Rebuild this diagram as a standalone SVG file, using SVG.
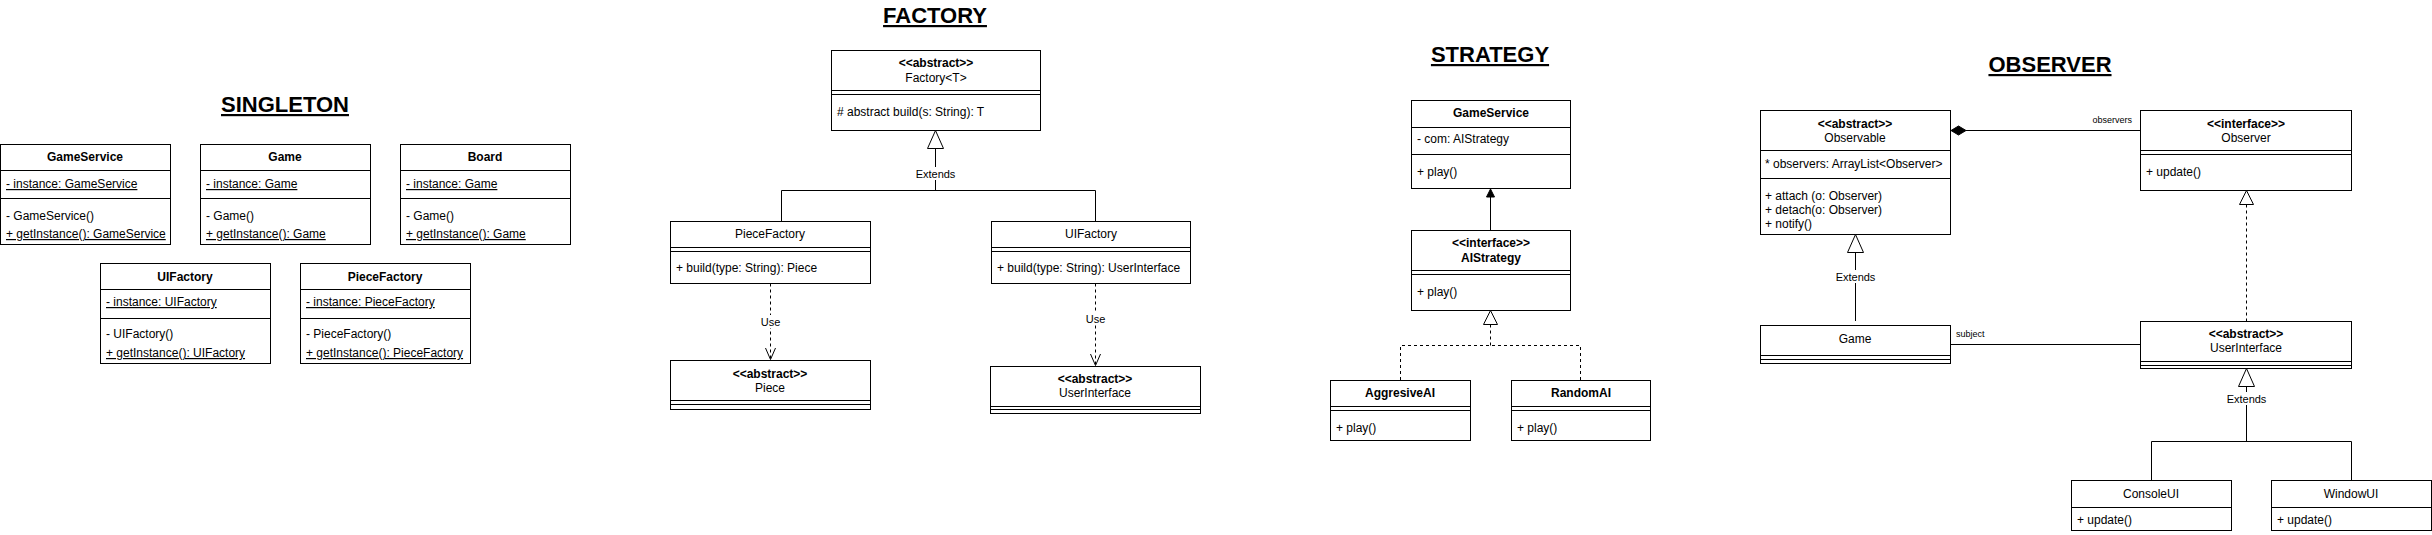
<svg xmlns="http://www.w3.org/2000/svg" width="2432" height="535" viewBox="0 0 2432 535">
<style>
text{font-family:"Liberation Sans",Arial,sans-serif;font-size:12px;fill:#000}
.b{font-weight:bold}
.c{text-anchor:middle}
.u{text-decoration:underline}
.h{font-size:22px;font-weight:bold;text-anchor:middle;text-decoration:underline}
.lbl{font-size:11px;text-anchor:middle}
.sm{font-size:9px}
rect{fill:#fff;stroke:#000;stroke-width:1}
line,path,polyline{stroke:#000;stroke-width:1;fill:none}
.d{stroke-dasharray:3 3}
.tri{fill:#fff;stroke:#000;stroke-width:1}
.fill{fill:#000;stroke:#000;stroke-width:1}
.bg{fill:#fff;stroke:none}
</style>

<!-- Titles -->
<text class="h" x="285" y="112">SINGLETON</text>
<text class="h" x="935" y="23">FACTORY</text>
<text class="h" x="1490" y="62">STRATEGY</text>
<text class="h" x="2050" y="72">OBSERVER</text>

<!-- SINGLETON -->
<g id="s-gameservice">
<rect x="0.5" y="144.5" width="170" height="100"/>
<line x1="0.5" y1="170.5" x2="170.5" y2="170.5"/>
<line x1="0.5" y1="198.5" x2="170.5" y2="198.5"/>
<text class="b c" x="85" y="161">GameService</text>
<text class="u" x="6" y="188">- instance: GameService</text>
<text x="6" y="220">- GameService()</text>
<text class="u" x="6" y="238">+ getInstance(): GameService</text>
</g>
<g id="s-game">
<rect x="200.5" y="144.5" width="170" height="100"/>
<line x1="200.5" y1="170.5" x2="370.5" y2="170.5"/>
<line x1="200.5" y1="198.5" x2="370.5" y2="198.5"/>
<text class="b c" x="285" y="161">Game</text>
<text class="u" x="206" y="188">- instance: Game</text>
<text x="206" y="220">- Game()</text>
<text class="u" x="206" y="238">+ getInstance(): Game</text>
</g>
<g id="s-board">
<rect x="400.5" y="144.5" width="170" height="100"/>
<line x1="400.5" y1="170.5" x2="570.5" y2="170.5"/>
<line x1="400.5" y1="198.5" x2="570.5" y2="198.5"/>
<text class="b c" x="485" y="161">Board</text>
<text class="u" x="406" y="188">- instance: Game</text>
<text x="406" y="220">- Game()</text>
<text class="u" x="406" y="238">+ getInstance(): Game</text>
</g>
<g id="s-uifactory">
<rect x="100.5" y="263.5" width="170" height="100"/>
<line x1="100.5" y1="289.5" x2="270.5" y2="289.5"/>
<line x1="100.5" y1="318.5" x2="270.5" y2="318.5"/>
<text class="b c" x="185" y="281">UIFactory</text>
<text class="u" x="106" y="306">- instance: UIFactory</text>
<text x="106" y="338">- UIFactory()</text>
<text class="u" x="106" y="357">+ getInstance(): UIFactory</text>
</g>
<g id="s-piecefactory">
<rect x="300.5" y="263.5" width="170" height="100"/>
<line x1="300.5" y1="289.5" x2="470.5" y2="289.5"/>
<line x1="300.5" y1="318.5" x2="470.5" y2="318.5"/>
<text class="b c" x="385" y="281">PieceFactory</text>
<text class="u" x="306" y="306">- instance: PieceFactory</text>
<text x="306" y="338">- PieceFactory()</text>
<text class="u" x="306" y="357">+ getInstance(): PieceFactory</text>
</g>

<!-- FACTORY -->
<g id="f-factory">
<rect x="831.5" y="50.5" width="209" height="80"/>
<line x1="831.5" y1="90.5" x2="1040.5" y2="90.5"/>
<line x1="831.5" y1="94.5" x2="1040.5" y2="94.5"/>
<text class="b c" x="936" y="67">&lt;&lt;abstract&gt;&gt;</text>
<text class="c" x="936" y="82">Factory&lt;T&gt;</text>
<text x="837" y="116"># abstract build(s: String): T</text>
</g>
<g id="f-piecefactory">
<rect x="670.5" y="221.5" width="200" height="62"/>
<line x1="670.5" y1="247.5" x2="870.5" y2="247.5"/>
<line x1="670.5" y1="251.5" x2="870.5" y2="251.5"/>
<text class="c" x="770" y="238">PieceFactory</text>
<text x="676" y="272">+ build(type: String): Piece</text>
</g>
<g id="f-uifactory">
<rect x="991.5" y="221.5" width="199" height="62"/>
<line x1="991.5" y1="247.5" x2="1190.5" y2="247.5"/>
<line x1="991.5" y1="251.5" x2="1190.5" y2="251.5"/>
<text class="c" x="1091" y="238">UIFactory</text>
<text x="997" y="272">+ build(type: String): UserInterface</text>
</g>
<g id="f-piece">
<rect x="670.5" y="360.5" width="200" height="49"/>
<line x1="670.5" y1="400.5" x2="870.5" y2="400.5"/>
<line x1="670.5" y1="404.5" x2="870.5" y2="404.5"/>
<text class="b c" x="770" y="378">&lt;&lt;abstract&gt;&gt;</text>
<text class="c" x="770" y="392">Piece</text>
</g>
<g id="f-userinterface">
<rect x="990.5" y="366.5" width="210" height="47"/>
<line x1="990.5" y1="406.5" x2="1200.5" y2="406.5"/>
<line x1="990.5" y1="409.5" x2="1200.5" y2="409.5"/>
<text class="b c" x="1095" y="383">&lt;&lt;abstract&gt;&gt;</text>
<text class="c" x="1095" y="397">UserInterface</text>
</g>

<!-- STRATEGY -->
<g id="st-gameservice">
<rect x="1411.5" y="100.5" width="159" height="88"/>
<line x1="1411.5" y1="127.5" x2="1570.5" y2="127.5"/>
<line x1="1411.5" y1="154.5" x2="1570.5" y2="154.5"/>
<text class="b c" x="1491" y="117">GameService</text>
<text x="1417" y="143">- com: AIStrategy</text>
<text x="1417" y="176">+ play()</text>
</g>
<g id="st-aistrategy">
<rect x="1411.5" y="230.5" width="159" height="80"/>
<line x1="1411.5" y1="270.5" x2="1570.5" y2="270.5"/>
<line x1="1411.5" y1="274.5" x2="1570.5" y2="274.5"/>
<text class="b c" x="1491" y="247">&lt;&lt;interface&gt;&gt;</text>
<text class="b c" x="1491" y="262">AIStrategy</text>
<text x="1417" y="296">+ play()</text>
</g>
<g id="st-aggresive">
<rect x="1330.5" y="380.5" width="140" height="60"/>
<line x1="1330.5" y1="406.5" x2="1470.5" y2="406.5"/>
<line x1="1330.5" y1="410.5" x2="1470.5" y2="410.5"/>
<text class="b c" x="1400" y="397">AggresiveAI</text>
<text x="1336" y="432">+ play()</text>
</g>
<g id="st-random">
<rect x="1511.5" y="380.5" width="139" height="60"/>
<line x1="1511.5" y1="406.5" x2="1650.5" y2="406.5"/>
<line x1="1511.5" y1="410.5" x2="1650.5" y2="410.5"/>
<text class="b c" x="1581" y="397">RandomAI</text>
<text x="1517" y="432">+ play()</text>
</g>

<!-- OBSERVER -->
<g id="o-observable">
<rect x="1760.5" y="110.5" width="190" height="124"/>
<line x1="1760.5" y1="150.5" x2="1950.5" y2="150.5"/>
<line x1="1760.5" y1="178.5" x2="1950.5" y2="178.5"/>
<text class="b c" x="1855" y="128">&lt;&lt;abstract&gt;&gt;</text>
<text class="c" x="1855" y="142">Observable</text>
<text x="1765" y="168">* observers: ArrayList&lt;Observer&gt;</text>
<text x="1765" y="200">+ attach (o: Observer)</text>
<text x="1765" y="214">+ detach(o: Observer)</text>
<text x="1765" y="228">+ notify()</text>
</g>
<g id="o-observer">
<rect x="2140.5" y="110.5" width="211" height="80"/>
<line x1="2140.5" y1="150.5" x2="2351.5" y2="150.5"/>
<line x1="2140.5" y1="154.5" x2="2351.5" y2="154.5"/>
<text class="b c" x="2246" y="128">&lt;&lt;interface&gt;&gt;</text>
<text class="c" x="2246" y="142">Observer</text>
<text x="2146" y="176">+ update()</text>
</g>
<g id="o-game">
<rect x="1760.5" y="325.5" width="190" height="38"/>
<line x1="1760.5" y1="355.5" x2="1950.5" y2="355.5"/>
<line x1="1760.5" y1="359.5" x2="1950.5" y2="359.5"/>
<text class="c" x="1855" y="343">Game</text>
</g>
<g id="o-userinterface">
<rect x="2140.5" y="321.5" width="211" height="47"/>
<line x1="2140.5" y1="361.5" x2="2351.5" y2="361.5"/>
<line x1="2140.5" y1="365.5" x2="2351.5" y2="365.5"/>
<text class="b c" x="2246" y="338">&lt;&lt;abstract&gt;&gt;</text>
<text class="c" x="2246" y="352">UserInterface</text>
</g>
<g id="o-consoleui">
<rect x="2071.5" y="480.5" width="160" height="50"/>
<line x1="2071.5" y1="507.5" x2="2231.5" y2="507.5"/>
<text class="c" x="2151" y="498">ConsoleUI</text>
<text x="2077" y="524">+ update()</text>
</g>
<g id="o-windowui">
<rect x="2271.5" y="480.5" width="160" height="50"/>
<line x1="2271.5" y1="507.5" x2="2431.5" y2="507.5"/>
<text class="c" x="2351" y="498">WindowUI</text>
<text x="2277" y="524">+ update()</text>
</g>

<!-- CONNECTORS -->
<g id="connectors">
<!-- Factory extends -->
<path d="M935.5,148 V190.5 M781.5,221 V190.5 H1095.5 V221"/>
<polygon class="tri" points="935.5,130.5 927.5,148.5 943.5,148.5"/>
<rect class="bg" x="914" y="167" width="43" height="13"/>
<text class="lbl" x="935.5" y="178">Extends</text>
<!-- Use -->
<line class="d" x1="770.5" y1="283.5" x2="770.5" y2="359"/>
<polyline points="765.5,348 770.5,359.5 775.5,348"/>
<rect class="bg" x="759" y="315" width="23" height="13"/>
<text class="lbl" x="770.5" y="326">Use</text>
<line class="d" x1="1095.5" y1="283.5" x2="1095.5" y2="365"/>
<polyline points="1090.5,354 1095.5,365.5 1100.5,354"/>
<rect class="bg" x="1084" y="312" width="23" height="13"/>
<text class="lbl" x="1095.5" y="323">Use</text>

<!-- Strategy association -->
<line x1="1490.5" y1="230" x2="1490.5" y2="196"/>
<polygon class="fill" points="1490.5,189 1486.5,197 1494.5,197"/>
<!-- Strategy realization -->
<polygon class="tri" points="1490.5,310.5 1483.5,324.5 1497.5,324.5"/>
<path class="d" d="M1490.5,324.5 V345.5 M1400.5,380 V345.5 H1580.5 V380"/>

<!-- Observer composition -->
<line x1="1966" y1="130.5" x2="2140" y2="130.5"/>
<polygon class="fill" points="1951,130.5 1958.5,126 1966,130.5 1958.5,135"/>
<text class="sm" x="2132" y="123" text-anchor="end">observers</text>
<!-- Observer realization -->
<polygon class="tri" points="2246.5,190.5 2239.5,204.5 2253.5,204.5"/>
<line class="d" x1="2246.5" y1="204.5" x2="2246.5" y2="321"/>
<!-- Observable extends -->
<polygon class="tri" points="1855.5,234.5 1847.5,252.5 1863.5,252.5"/>
<line x1="1855.5" y1="252.5" x2="1855.5" y2="321"/>
<rect class="bg" x="1834" y="270" width="43" height="13"/>
<text class="lbl" x="1855.5" y="281">Extends</text>
<!-- subject -->
<line x1="1950.5" y1="344.5" x2="2140.5" y2="344.5"/>
<text class="sm" x="1956" y="337">subject</text>
<!-- UserInterface extends -->
<polygon class="tri" points="2246.5,368.5 2238.5,386.5 2254.5,386.5"/>
<path d="M2246.5,386.5 V441.5 M2151.5,480 V441.5 H2351.5 V480"/>
<rect class="bg" x="2225" y="392" width="43" height="13"/>
<text class="lbl" x="2246.5" y="403">Extends</text>
</g>
</svg>
